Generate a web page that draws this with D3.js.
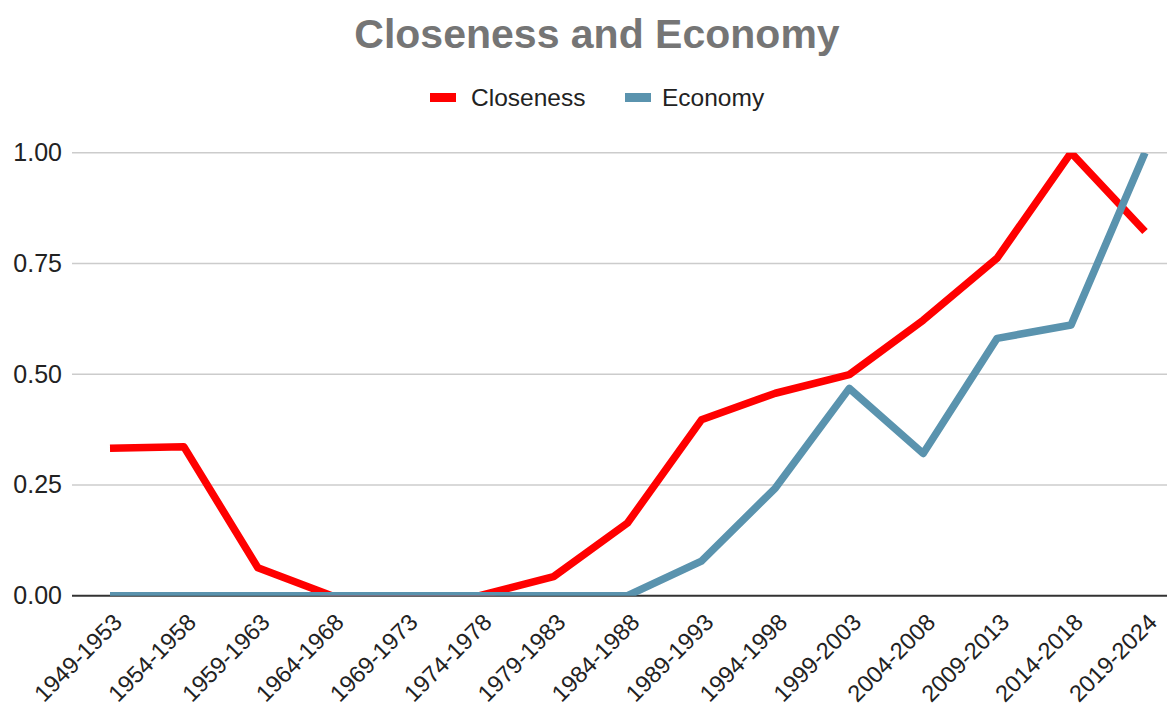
<!DOCTYPE html>
<html>
<head>
<meta charset="utf-8">
<script src="https://cdn.jsdelivr.net/npm/d3@7"></script>
<style>
  html, body { margin: 0; padding: 0; background: #fff; }
  svg { display: block; font-family: "Liberation Sans", Arial, sans-serif; }
</style>
</head>
<body>
<svg id="chart" width="1167" height="706"></svg>
<script>
// Five-year periods along the x axis
const periods = [
  "1949-1953", "1954-1958", "1959-1963", "1964-1968", "1969-1973",
  "1974-1978", "1979-1983", "1984-1988", "1989-1993", "1994-1998",
  "1999-2003", "2004-2008", "2009-2013", "2014-2018", "2019-2024"
];

// Normalised scores per period
const closeness = [0.333, 0.336, 0.063, 0, 0, 0, 0.043, 0.164, 0.397, 0.457, 0.499, 0.622, 0.762, 1.0, 0.822];
const economy   = [0, 0, 0, 0, 0, 0, 0, 0, 0.078, 0.243, 0.468, 0.321, 0.581, 0.611, 1.0];

const yTicks = [0, 0.25, 0.5, 0.75, 1.0];

const seriesList = [
  { name: "Closeness", values: closeness, color: "#ff0000" },
  { name: "Economy",   values: economy,   color: "#5a93ae" }
];

const svg = d3.select("#chart");
const W = 1167;

const plotLeft = 72, plotRight = 1167;
const x = d3.scalePoint().domain(periods).range([110, 1145]);
const y = d3.scaleLinear().domain([0, 1]).range([595.7, 152.7]);

// Title
svg.append("text")
  .attr("x", 597).attr("y", 48)
  .attr("text-anchor", "middle")
  .attr("font-size", 41).attr("font-weight", "bold")
  .attr("fill", "#757575")
  .text("Closeness and Economy");

// Legend
const legendItems = [
  { s: seriesList[0], sx: 430, tx: 471 },
  { s: seriesList[1], sx: 625, tx: 662 }
];
const lg = svg.append("g");
legendItems.forEach(d => {
  lg.append("rect").attr("x", d.sx).attr("y", 93).attr("width", 26).attr("height", 9).attr("fill", d.s.color);
  lg.append("text").attr("x", d.tx).attr("y", 106)
    .attr("font-size", 24.5).attr("fill", "#222").text(d.s.name);
});

// Gridlines
const grid = svg.append("g");
grid.selectAll("line").data(yTicks.filter(t => t > 0)).join("line")
  .attr("x1", plotLeft).attr("x2", plotRight)
  .attr("y1", d => y(d)).attr("y2", d => y(d))
  .attr("stroke", "#cccccc").attr("stroke-width", 1.5);

// Y axis labels
const yAxis = d3.axisLeft(y).tickValues(yTicks).tickFormat(d3.format(".2f")).tickSize(0).tickPadding(10);
const yg = svg.append("g").attr("transform", `translate(${plotLeft},0)`).call(yAxis);
yg.select(".domain").remove();
yg.selectAll("text").attr("font-size", 25).attr("fill", "#222").attr("font-family", "Liberation Sans, Arial, sans-serif");

// Baseline
svg.append("line")
  .attr("x1", plotLeft).attr("x2", plotRight)
  .attr("y1", y(0)).attr("y2", y(0))
  .attr("stroke", "#333").attr("stroke-width", 2);

// X axis labels, rotated
const xAxis = d3.axisBottom(x).tickSize(0).tickPadding(0);
const xg = svg.append("g").attr("transform", `translate(0,${y(0)})`).call(xAxis);
xg.select(".domain").remove();
xg.selectAll(".tick text")
  .attr("font-size", 23.5).attr("fill", "#222").attr("font-family", "Liberation Sans, Arial, sans-serif")
  .attr("text-anchor", "end")
  .attr("dy", null).attr("y", null)
  .attr("transform", "translate(13,28) rotate(-45)");

// Clip lines to the plot area
svg.append("defs").append("clipPath").attr("id", "plotClip")
  .append("rect").attr("x", 0).attr("y", y(1)).attr("width", W).attr("height", y(0) - y(1));

const line = d3.line().x((d, i) => x(periods[i])).y(d => y(d));
svg.append("g").attr("clip-path", "url(#plotClip)")
  .selectAll("path").data(seriesList).join("path")
  .attr("d", d => line(d.values))
  .attr("fill", "none")
  .attr("stroke", d => d.color)
  .attr("stroke-width", 7.5)
  .attr("stroke-linejoin", "round");
</script>
</body>
</html>
